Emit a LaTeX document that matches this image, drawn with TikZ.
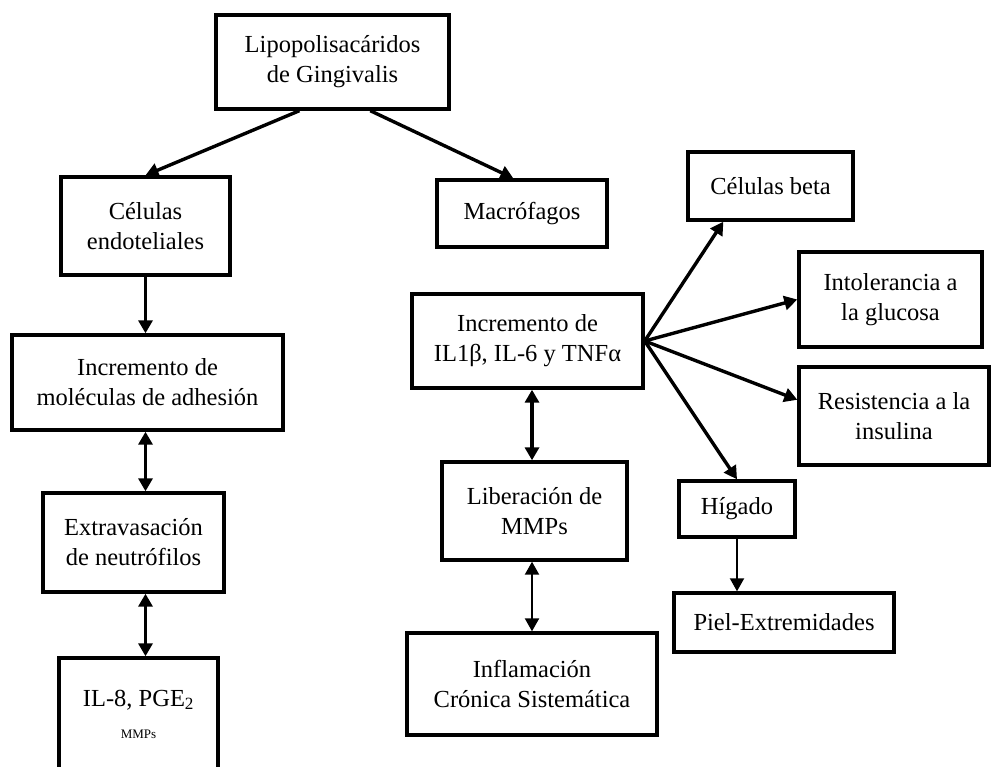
\documentclass[tikz,border=0pt]{standalone}
\usepackage{fontspec}
\setmainfont{Liberation Serif}
\usetikzlibrary{arrows.meta,calc}
\newcommand{\boxw}{3.4pt}
\newcommand{\tipa}{Triangle[length=13pt,width=14pt]}

\begin{document}
\begin{tikzpicture}[x=1pt, y=-1pt,
        box/.style = {draw, line width=\boxw, align=center, inner sep=0pt,
                      font=\fontsize{24.5}{30}\selectfont},
        arr/.style = {line width=3.4pt, -{\tipa}},
        darr/.style = {line width=3.4pt, {\tipa}-{\tipa}},
        thinarr/.style = {line width=2pt, -{\tipa}},
        thindarr/.style = {line width=2.2pt, {\tipa}-{\tipa}}]
        %\draw[help lines] (0,0) grid[step=50] (992,766);
        \useasboundingbox (0,0) rectangle (992,766);
        \clip (0,0) rectangle (992,766);

        % left branch
        \node[box, minimum width=233pt, minimum height=94pt] (lps) at (332.5,62) {Lipopolisacáridos\\de Gingivalis};
        \node[box, minimum width=169pt, minimum height=98pt] (endo) at (145.5,226) {Células\\endoteliales};
        \node[box, minimum width=271pt, minimum height=95pt] (adhes) at (147.5,382.5) {Incremento de\\moléculas de adhesión};
        \node[box, minimum width=181pt, minimum height=99pt] (extrav) at (133.5,542.5) {Extravasación\\de neutrófilos};
        \node[box, minimum width=159pt, minimum height=112pt] (il8) at (138.5,714) {IL-8, PGE\textsubscript{2}\\[2pt]{\fontsize{13}{15}\selectfont MMPs}};

        % right branch
        \node[box, minimum width=170pt, minimum height=67pt] (macro) at (522,213.5) {Macrófagos};
        \node[box, minimum width=231pt, minimum height=94pt] (cyto) at (527.5,341) {Incremento de\\IL1β, IL-6 y TNFα};
        \node[box, minimum width=185pt, minimum height=98pt] (lib) at (534.5,511) {Liberación de\\MMPs};
        \node[box, minimum width=250pt, minimum height=102pt] (infl) at (532,684) {Inflamación\\Crónica Sistemática};

        \node[box, minimum width=165pt, minimum height=68pt] (beta) at (770.5,186) {Células beta};
        \node[box, minimum width=183pt, minimum height=95pt] (intol) at (890.5,299.5) {Intolerancia a\\la glucosa};
        \node[box, minimum width=190pt, minimum height=98pt] (res) at (894,416) {Resistencia a la\\insulina};
        \node[box, minimum width=116pt, minimum height=56pt] (hig) at (737,509) {Hígado};
        \node[box, minimum width=220pt, minimum height=59pt] (piel) at (784,622.5) {Piel-Extremidades};

        \draw[arr] ($(lps.south west)!0.36!(lps.south east)$) -- (endo.north);
        \draw[arr] ($(lps.south west)!0.66!(lps.south east)$) -- ($(macro.north west)!0.45!(macro.north east)$);
        \draw[arr] (endo.south) -- (adhes.north -| endo.south);
        \draw[darr] (adhes.south -| endo.south) -- (extrav.north -| endo.south);
        \draw[darr] (extrav.south -| endo.south) -- (il8.north -| endo.south);

        \draw[darr] (cyto.south -| infl.north) -- (lib.north -| infl.north);
        \draw[thindarr] (lib.south -| infl.north) -- (infl.north);
        \draw[arr] (cyto.east) -- ($(beta.south west)!0.22!(beta.south east)$);
        \draw[arr] (cyto.east) -- (intol.west);
        \draw[arr] (cyto.east) -- ($(res.north west)!0.34!(res.south west)$);
        \draw[arr] (cyto.east) -- (hig.north);
        \draw[thinarr] (hig.south) -- (hig.south |- piel.north);
\end{tikzpicture}
\end{document}
